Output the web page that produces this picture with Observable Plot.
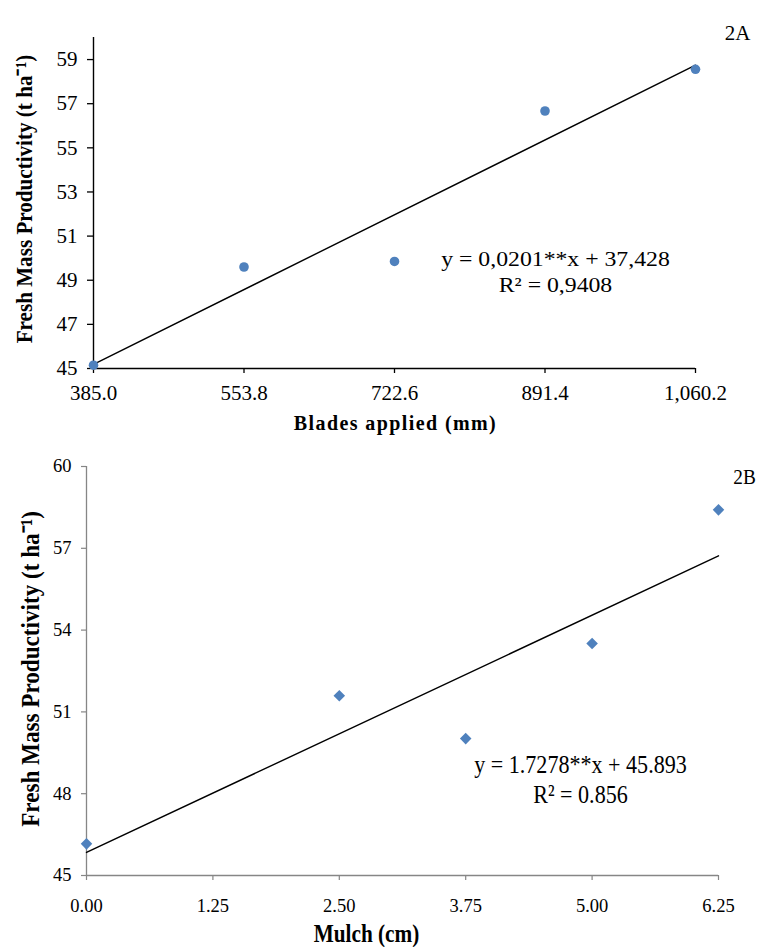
<!DOCTYPE html>
<html><head><meta charset="utf-8">
<script src="https://cdn.jsdelivr.net/npm/d3@7"></script>
<script src="https://cdn.jsdelivr.net/npm/@observablehq/plot@0.6"></script>
<style>
html,body{margin:0;padding:0;background:#fff;}
body{width:757px;height:947px;position:relative;overflow:hidden;font-family:"Liberation Serif","Times New Roman",serif;}
.panel{position:absolute;left:0;}
</style></head><body>
<div id="a" class="panel" style="top:0px"></div>
<div id="b" class="panel" style="top:440px"></div>
<script>
// ---- data ----
const blades = [385.0, 553.8, 722.6, 891.4, 1060.2];
const productivityA = [45.15, 49.6, 49.85, 56.67, 58.56];
const mulch = [0, 2.5, 3.75, 5.0, 6.25];
const productivityB = [46.16, 51.59, 50.02, 53.51, 58.41];
const xTicksA = [385.0, 553.8, 722.6, 891.4, 1060.2];
const yTicksA = [45, 47, 49, 51, 53, 55, 57, 59];
const xTicksB = [0, 1.25, 2.5, 3.75, 5.0, 6.25];
const yTicksB = [45, 48, 51, 54, 57, 60];
const yTitle = "Fresh Mass Productivity (t ha\u207B\u00B9)";
const xTitleA = "Blades applied (mm)";
const xTitleB = "Mulch (cm)";
const equationA = ["y = 0,0201**x + 37,428", "R\u00B2 = 0,9408"];
const equationB = ["y = 1.7278**x + 45.893", "R\u00B2 = 0.856"];
const panelTags = ["2A", "2B"];

const dataA = blades.map((x, i) => ({x, y: productivityA[i]}));
const dataB = mulch.map((x, i) => ({x, y: productivityB[i]}));
const blue = "#4f81bd";
const font = "Liberation Serif";

function tweak(svg, test, sx, ls) {
  d3.select(svg).selectAll("text").filter(function () { return test(this.textContent); })
    .each(function () {
      const t = this.getAttribute("transform") || "";
      if (sx !== 1) this.setAttribute("transform", t + ` scale(${sx},1)`);
      if (ls != null) this.style.letterSpacing = ls + "px";
    });
}

// ---- chart 2A ----
const chartA = Plot.plot({
  width: 757, height: 440,
  marginLeft: 93, marginRight: 62, marginTop: 37, marginBottom: 72,
  style: {fontFamily: font, fontSize: "21px", color: "#000", background: "#fff", overflow: "visible"},
  x: {domain: [385, 1060.2], label: null},
  y: {domain: [45, 60], label: null},
  marks: [
    Plot.axisX({ticks: xTicksA, tickFormat: d3.format(",.1f"), tickSize: 5, tickPadding: 12, label: null, strokeWidth: 1.3}),
    Plot.axisY({ticks: yTicksA, tickSize: 6, tickPadding: 10, label: null, strokeWidth: 1.3}),
    Plot.ruleY([45], {strokeWidth: 1.4}),
    Plot.ruleX([385], {strokeWidth: 1.4}),
    Plot.linearRegressionY(dataA, {x: "x", y: "y", ci: 0, stroke: "#000", strokeWidth: 1.4}),
    Plot.dot(dataA, {x: "x", y: "y", r: 4.8, fill: blue, stroke: "none"}),
    Plot.text([equationA.join("\n")], {frameAnchor: "top-left", dx: 462, dy: 233, textAnchor: "middle", lineAnchor: "middle", fontSize: 22, lineHeight: 1.22}),
    Plot.text([xTitleA], {frameAnchor: "bottom", dx: 1, dy: 61, textAnchor: "middle", fontWeight: "bold", fontSize: 20}),
    Plot.text([yTitle], {frameAnchor: "left", dx: -69, dy: -4, rotate: -90, textAnchor: "middle", fontWeight: "bold", fontSize: 24}),
    Plot.text([panelTags[0]], {frameAnchor: "top-right", dx: 42, dy: -12, textAnchor: "middle", fontSize: 21})
  ]
});
document.getElementById("a").appendChild(chartA);
tweak(chartA, s => s.startsWith("y =") , 1.08, null);
tweak(chartA, s => s === xTitleA, 1, 1.4);
tweak(chartA, s => s.startsWith("Fresh"), 0.88, null);

// ---- chart 2B ----
const gray = "#868686";
const chartB = Plot.plot({
  width: 757, height: 507,
  marginLeft: 86, marginRight: 39, marginTop: 26, marginBottom: 72,
  style: {fontFamily: font, fontSize: "18.5px", color: "#000", background: "#fff", overflow: "visible"},
  x: {domain: [0, 6.25], label: null},
  y: {domain: [45, 60], label: null},
  marks: [
    Plot.axisX({ticks: xTicksB, tickFormat: d3.format(".2f"), tickSize: 5, tickPadding: 18, label: null, stroke: gray, strokeWidth: 1.2}),
    Plot.axisY({ticks: yTicksB, tickSize: 5, tickPadding: 10, label: null, stroke: gray, strokeWidth: 1.2}),
    Plot.ruleY([45], {stroke: gray, strokeWidth: 1.3}),
    Plot.ruleX([0], {stroke: gray, strokeWidth: 1.3}),
    Plot.linearRegressionY(dataB, {x: "x", y: "y", ci: 0, stroke: "#000", strokeWidth: 1.4}),
    Plot.dot(dataB, {x: "x", y: "y", r: 5.2, symbol: "diamond2", fill: blue, stroke: "none"}),
    Plot.text([equationB.join("\n")], {frameAnchor: "top-left", dx: 494, dy: 312, textAnchor: "middle", lineAnchor: "middle", fontSize: 26, lineHeight: 1.14}),
    Plot.text([xTitleB], {frameAnchor: "bottom", dx: -36, dy: 66, textAnchor: "middle", fontWeight: "bold", fontSize: 25}),
    Plot.text([yTitle], {frameAnchor: "left", dx: -56, dy: -2, rotate: -90, textAnchor: "middle", fontWeight: "bold", fontSize: 26}),
    Plot.text([panelTags[1]], {frameAnchor: "top-right", dx: 26, dy: 3, textAnchor: "middle", fontSize: 21})
  ]
});
document.getElementById("b").appendChild(chartB);
tweak(chartB, s => s.startsWith("y ="), 0.85, null);
tweak(chartB, s => s === xTitleB, 0.85, null);
tweak(chartB, s => s.startsWith("Fresh"), 0.89, null);
tweak(chartB, s => s === panelTags[1], 0.92, null);
</script>
</body></html>
